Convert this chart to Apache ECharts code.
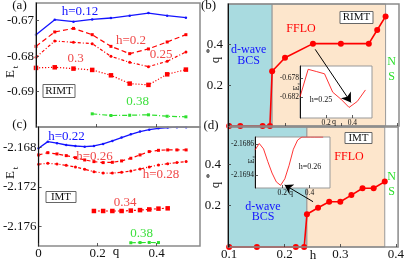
<!DOCTYPE html>
<html><head><meta charset="utf-8">
<script src="https://cdn.jsdelivr.net/npm/echarts@6/dist/echarts.min.js"></script>
<style>html,body{margin:0;padding:0;background:#fff}#c{width:407px;height:261px}</style>
</head><body><div id="c"></div>
<script>
// ---------- Panel (a): RIMT, E_t vs q ----------
const qA = [0, 0.0625, 0.125, 0.1875, 0.25, 0.3125, 0.375, 0.4375, 0.5];
const eA_h012 = [-0.67394, -0.66972, -0.67028, -0.66963, -0.66924, -0.66859, -0.66783, -0.66859, -0.66915];
const eA_h020 = [-0.67724, -0.67318, -0.67217, -0.67394, -0.67724, -0.67930, -0.67797, -0.67600, -0.67394];
const eA_h025 = [-0.68034, -0.67572, -0.67611, -0.67648, -0.68006, -0.68175, -0.68296, -0.68146, -0.67882];
const eA_h030 = [-0.68332, -0.68315, -0.68352, -0.68389, -0.68541, -0.68775, -0.68811, -0.68513, -0.68380];
const qA_h038 = [0.1875, 0.25, 0.3125, 0.375, 0.4375, 0.5];
const eA_h038 = [-0.69628, -0.69676, -0.69668, -0.69656, -0.69696, -0.69713];
const yTicksA = [-0.67, -0.68, -0.69];
const qTicks = [0, 0.2, 0.4];

// ---------- Panel (c): IMT, E_t vs q ----------
const qC = [0, 0.03125, 0.0625, 0.09375, 0.125, 0.15625, 0.1875, 0.21875, 0.25, 0.28125, 0.3125, 0.34375, 0.375, 0.40625, 0.4375, 0.46875, 0.5];
const eC_h022 = [-2.16806, -2.16739, -2.16755, -2.16773, -2.16783, -2.16790, -2.16783, -2.16762, -2.16732, -2.16698, -2.16664, -2.16637, -2.16617, -2.16603, -2.16596, -2.16592, -2.16592];
const eC_h026 = [-2.16874, -2.16851, -2.16864, -2.16881, -2.16902, -2.16925, -2.16942, -2.16952, -2.16949, -2.16935, -2.16908, -2.16874, -2.16840, -2.16827, -2.16823, -2.16823, -2.16823];
const eC_h028 = [-2.16969, -2.16959, -2.16966, -2.16980, -2.16996, -2.17020, -2.17044, -2.17058, -2.17058, -2.17051, -2.17037, -2.17017, -2.16996, -2.16976, -2.16963, -2.16952, -2.16942];
const qC_h034 = [0.1875, 0.21875, 0.25, 0.28125, 0.3125, 0.34375, 0.375, 0.40625, 0.4375];
const eC_h034 = [-2.17444, -2.17444, -2.17444, -2.17444, -2.17440, -2.17435, -2.17428, -2.17420, -2.17417];
const qC_h038 = [0.3125, 0.34375, 0.375, 0.40625];
const eC_h038 = [-2.17767, -2.17765, -2.17764, -2.17765];
const yTicksC = [-2.168, -2.172, -2.176];

// ---------- Panel (b): RIMT, q* vs h ----------
const hB = [0.1, 0.12, 0.16, 0.173, 0.177, 0.2, 0.25, 0.3, 0.35, 0.365, 0.38];
const qStarB = [0, 0, 0, 0, 0.269, 0.336, 0.405, 0.405, 0.405, 0.472, 0.539];
const phaseB = [0.177, 0.38];   // BCS|FFLO, FFLO|NS

// ---------- Panel (d): IMT, q* vs h ----------
const hD = [0.1, 0.15, 0.22, 0.235, 0.24, 0.26, 0.28, 0.3, 0.32, 0.34, 0.36, 0.38];
const qStarD = [0, 0, 0, 0, 0.158, 0.19, 0.219, 0.219, 0.251, 0.284, 0.284, 0.316];
const phaseD = [0.24, 0.38];
const hTicks = [0.1, 0.2, 0.3, 0.4];
const qStarTicks = [0.2, 0.4];

// ---------- Insets ----------
const qInB = [0, 0.0625, 0.125, 0.1875, 0.25, 0.3125, 0.375, 0.4375, 0.5];
const eInB = [-0.68200, -0.67602, -0.67650, -0.67700, -0.68100, -0.68250, -0.68430, -0.68300, -0.68050];
const yTicksInB = [-0.678, -0.682];
const qInD = [0, 0.03125, 0.0625, 0.09375, 0.125, 0.15625, 0.1875, 0.21875, 0.25, 0.28125, 0.3125, 0.34375, 0.375, 0.40625, 0.4375, 0.46875, 0.5];
const eInD = [-2.16875, -2.16858, -2.16872, -2.16905, -2.16935, -2.16958, -2.16967, -2.16950, -2.16915, -2.16873, -2.16849, -2.16841, -2.16841, -2.16841, -2.16841, -2.16841, -2.16841];
const yTicksInD = [-2.1686, -2.1694];
const qTicksIn = [0.2, 0.4];

// arrows (data coordinates of panels b and d)
const arrowB = [[0.254, 0.377], [0.318, 0.116]];
const arrowD = [[0.251, 0.219], [0.200, 0.300]];

const FONT = 'Liberation Serif';
const RED = '#ff0000', BLUE = '#1414ff', GREEN = '#2ee02e';
const CYAN = '#a9dbe0', PEACH = '#fde6cc', FRAME = '#8a8a8a';
const zip = (a, b) => a.map((v, i) => [v, b[i]]);

function xAx(grid, min, max, ticks, showLabels, fmt, fs) {
  return {
    type: 'value', gridIndex: grid, min: min, max: max, z: 4,
    axisLine: { show: false },
    splitLine: { show: false },
    axisTick: { show: true, inside: true, length: 3, customValues: ticks, lineStyle: { color: '#333', width: 0.8 } },
    axisLabel: { show: showLabels, customValues: ticks, formatter: fmt, fontFamily: FONT, fontSize: fs || 13, color: '#111', margin: 1 }
  };
}
function yAx(grid, min, max, ticks, fmt, fs, margin) {
  return {
    type: 'value', gridIndex: grid, min: min, max: max, z: 4,
    axisLine: { show: true, onZero: false, lineStyle: { color: '#111', width: 1 } },
    splitLine: { show: false },
    axisTick: { show: true, inside: true, length: 3, customValues: ticks, lineStyle: { color: '#333', width: 0.8 } },
    axisLabel: { show: true, customValues: ticks, formatter: fmt, fontFamily: FONT, fontSize: fs || 13, color: '#111', margin: margin == null ? 2 : margin }
  };
}
function ln(xi, data, color, type, width, sym, symSize, z) {
  return {
    type: 'line', xAxisIndex: xi, yAxisIndex: xi, data: data, z: z || 2,
    lineStyle: { color: color, width: width, type: type },
    itemStyle: { color: color },
    symbol: sym, symbolSize: symSize, showSymbol: sym !== 'none',
    clip: false, silent: true, animation: false
  };
}
function txt(x, y, s, color, size, extra) {
  return Object.assign({
    type: 'text', x: x, y: y, z: 60, silent: true,
    style: { text: s, fill: color, fontFamily: FONT, fontSize: size, align: 'center', verticalAlign: 'middle' }
  }, extra || {});
}
function box(x, y, w, h) {
  return { type: 'rect', z: 59, silent: true, shape: { x: x, y: y, width: w, height: h },
    style: { fill: '#fff', stroke: '#666', lineWidth: 1 } };
}

const frame = { show: true, borderColor: FRAME, borderWidth: 1.5, backgroundColor: 'transparent', z: 3 };
const f2 = v => v.toFixed(2), f3 = v => v.toFixed(3), f4 = v => v.toFixed(4);
const fq = v => (v === 0 ? '0' : v.toFixed(1));

const option = {
  animation: false,
  backgroundColor: '#fff',
  grid: [
    Object.assign({ left: 36, top: 3, width: 164, height: 124 }, frame),
    Object.assign({ left: 36, top: 127, width: 164, height: 119 }, frame),
    Object.assign({ left: 228, top: 4, width: 171, height: 122 }, frame),
    Object.assign({ left: 228, top: 127, width: 171, height: 120 }, frame),
    { left: 300, top: 66, width: 72, height: 52, show: true, backgroundColor: '#fff', borderColor: '#999', borderWidth: 1, z: 10 },
    { left: 255, top: 137, width: 75, height: 51, show: true, backgroundColor: '#fff', borderColor: '#999', borderWidth: 1, z: 10 }
  ],
  xAxis: [
    xAx(0, 0, 0.547, qTicks, false, fq),
    xAx(1, 0, 0.547, qTicks, true, fq),
    xAx(2, 0.098, 0.404, hTicks, false, f2),
    xAx(3, 0.098, 0.404, hTicks, true, v => v.toFixed(1)),
    Object.assign(xAx(4, 0, 0.55, qTicksIn, true, v => v.toFixed(1), 7.5), { z: 11 }),
    Object.assign(xAx(5, 0, 0.55, qTicksIn, true, v => v.toFixed(1), 7.5), { z: 11 })
  ],
  yAxis: [
    yAx(0, -0.700, -0.665, yTicksA, f2),
    yAx(1, -2.178, -2.1659, yTicksC, f3),
    yAx(2, 0, 0.6, qStarTicks, v => v.toFixed(1), 13, 5),
    yAx(3, 0, 0.58, qStarTicks, v => v.toFixed(1), 13, 7),
    Object.assign(yAx(4, -0.6866, -0.6753, yTicksInB, f3, 7.5, 1), { z: 11 }),
    Object.assign(yAx(5, -2.16974, -2.16841, yTicksInD, f4, 7.5, 1), { z: 11 })
  ],
  series: [
    // (a)
    ln(0, zip(qA, eA_h012), BLUE, 'solid', 1.3, 'circle', 2.5),
    ln(0, zip(qA, eA_h020), RED, [5, 3], 1.2, 'rect', 3),
    ln(0, zip(qA, eA_h025), RED, [3, 2, 1, 2], 1.2, 'circle', 3),
    ln(0, zip(qA, eA_h030), RED, [1.2, 1.8], 1.2, 'rect', 4.5),
    ln(0, zip(qA_h038, eA_h038), GREEN, [5, 2, 1, 2], 1.2, 'rect', 3),
    // (c)
    ln(1, zip(qC, eC_h022), BLUE, 'solid', 1.3, 'circle', 2.5),
    ln(1, zip(qC, eC_h026), RED, [4, 3], 1.2, 'rect', 3),
    ln(1, zip(qC, eC_h028), RED, [3, 2, 1, 2], 1.2, 'circle', 3),
    ln(1, zip(qC_h034, eC_h034), RED, [2, 2], 1.2, 'rect', 4.5),
    ln(1, zip(qC_h038, eC_h038), GREEN, [5, 2, 1, 2], 1.2, 'rect', 3),
    // (b)
    Object.assign(ln(2, zip(hB, qStarB), RED, 'solid', 1.6, 'circle', 6), {
      markArea: {
        silent: true, label: { show: false },
        itemStyle: { borderColor: '#999', borderWidth: 1 },
        data: [
          [{ xAxis: 0.098, itemStyle: { color: CYAN } }, { xAxis: phaseB[0] }],
          [{ xAxis: phaseB[0], itemStyle: { color: PEACH } }, { xAxis: phaseB[1] }]
        ]
      }
    }),
    // (d)
    Object.assign(ln(3, zip(hD, qStarD), RED, 'solid', 1.6, 'circle', 6), {
      markArea: {
        silent: true, label: { show: false },
        itemStyle: { borderColor: '#999', borderWidth: 1 },
        data: [
          [{ xAxis: 0.098, itemStyle: { color: CYAN } }, { xAxis: phaseD[0] }],
          [{ xAxis: phaseD[0], itemStyle: { color: PEACH } }, { xAxis: phaseD[1] }]
        ]
      }
    }),
    // insets
    Object.assign(ln(4, zip(qInB, eInB), RED, 'solid', 0.8, 'none', 0, 12), { clip: true }),
    Object.assign(ln(5, zip(qInD, eInD), RED, 'solid', 0.8, 'none', 0, 12), { clip: true }),
    // arrows
    { type: 'lines', coordinateSystem: 'cartesian2d', xAxisIndex: 2, yAxisIndex: 2, z: 30, silent: true,
      symbol: ['none', 'arrow'], symbolSize: 9,
      lineStyle: { color: '#000', width: 1, opacity: 1, curveness: 0 },
      data: [{ coords: arrowB }] },
    { type: 'lines', coordinateSystem: 'cartesian2d', xAxisIndex: 3, yAxisIndex: 3, z: 30, silent: true,
      symbol: ['none', 'arrow'], symbolSize: 8,
      lineStyle: { color: '#000', width: 1, opacity: 1, curveness: 0 },
      data: [{ coords: arrowD }] }
  ],
  graphic: { elements: [
    // panel tags
    txt(19.5, 6, '(a)', '#111', 13), txt(19.5, 125, '(c)', '#111', 13),
    txt(208.5, 6, '(b)', '#111', 13), txt(211, 126, '(d)', '#111', 13),
    // axis titles
    txt(11, 74, 'E', '#111', 13, { rotation: Math.PI / 2 }), txt(15.5, 67, 't', '#111', 9, { rotation: Math.PI / 2 }),
    txt(11, 175, 'E', '#111', 13, { rotation: Math.PI / 2 }), txt(15.5, 168, 't', '#111', 9, { rotation: Math.PI / 2 }),
    txt(216, 60, 'q', '#111', 13, { rotation: Math.PI / 2 }), txt(210, 51, '*', '#111', 10, { rotation: Math.PI / 2 }),
    txt(216, 185, 'q', '#111', 13, { rotation: Math.PI / 2 }), txt(210, 176, '*', '#111', 10, { rotation: Math.PI / 2 }),
    txt(116, 252, 'q', '#111', 13), txt(313, 256, 'h', '#111', 13),
    // (a) labels
    txt(80, 12, 'h=0.12', BLUE, 13), txt(131, 41, 'h=0.2', '#f04848', 13),
    txt(161, 55, '0.25', '#f04848', 13), txt(75.5, 59, '0.3', '#f04848', 13),
    txt(137.5, 102, '0.38', '#3ee03e', 13),
    box(43, 84.5, 32, 13), txt(59, 91, 'RIMT', '#111', 11),
    // (c) labels
    txt(66.5, 137, 'h=0.22', BLUE, 13), txt(94.5, 157, 'h=0.26', '#f04848', 13),
    txt(161, 175, 'h=0.28', '#f04848', 13), txt(125, 203, '0.34', '#f04848', 13),
    txt(141.5, 234, '0.38', '#3ee03e', 13),
    box(46, 191.5, 30, 11), txt(61, 197, 'IMT', '#111', 11),
    // (b) labels
    txt(248.7, 50, 'd-wave', BLUE, 12), txt(248.7, 61, 'BCS', BLUE, 12),
    txt(301, 29, 'FFLO', RED, 12),
    box(340, 11.5, 33, 12), txt(356.5, 17.5, 'RIMT', '#111', 11),
    txt(391.5, 62, 'N', GREEN, 12), txt(391.5, 77, 'S', GREEN, 12),
    // (d) labels
    box(345, 132.5, 27, 11), txt(358.5, 138, 'IMT', '#111', 11),
    txt(349, 157, 'FFLO', RED, 12),
    txt(263, 207, 'd-wave', BLUE, 12), txt(263, 217, 'BCS', BLUE, 12),
    txt(391.7, 177, 'N', GREEN, 12), txt(391.7, 192, 'S', GREEN, 12),
    // inset labels
    txt(321, 100, 'h=0.25', '#111', 8), txt(310, 167, 'h=0.26', '#111', 8),
    txt(296.5, 88, 'E', '#111', 8, { rotation: Math.PI / 2 }), txt(299, 84, 't', '#111', 6, { rotation: Math.PI / 2 }),
    txt(252, 161, 'E', '#111', 8, { rotation: Math.PI / 2 }), txt(254.5, 157, 't', '#111', 6, { rotation: Math.PI / 2 }),
    txt(334, 122, 'q', '#111', 8), txt(291, 193, 'q', '#111', 8)
  ] }
};

const chart = echarts.init(document.getElementById('c'), null, { renderer: 'canvas' });
chart.setOption(option);
</script>
</body></html>
